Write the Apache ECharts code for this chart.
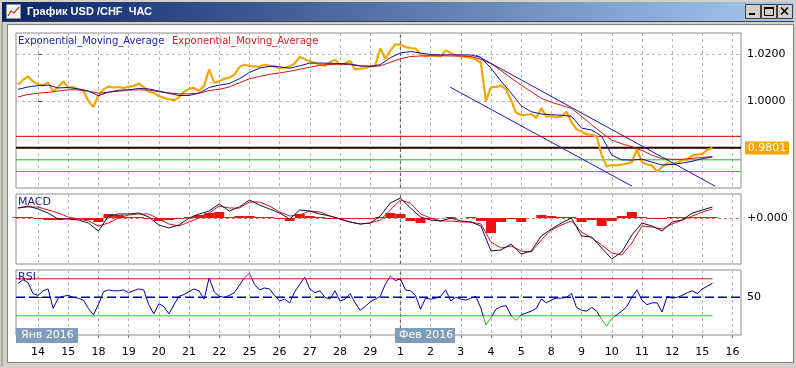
<!DOCTYPE html>
<html><head><meta charset="utf-8">
<script src="https://cdn.jsdelivr.net/npm/echarts@6/dist/echarts.min.js"></script>
<style>html,body{margin:0;padding:0;background:#d4d0c8;}#c{width:796px;height:368px;}</style>
</head><body><div id="c"></div>
<script>
// ---- x axis: trading days counted from 14 Jan 2016 00:00 ----
const dayLabels = ['14','15','18','19','20','21','22','25','26','27','28','29','1','2','3','4','5','8','9','10','11','12','15','16'];
const monthLabels = ['Янв 2016','Фев 2016'];
const monthStartDay = 12; // 1 Feb
const priceStart = -2/3, priceStep = 1/6; // 4-hour samples from 13 Jan 16:00
const emaStart = -2/3, emaStep = 1/3;     // 8-hour samples

// ---- main panel: USD/CHF hourly ----
const price = [
1.0070,1.0090,1.0105,1.0084,1.0072,1.0066,1.0080,1.0040,1.0060,1.0084,
1.0058,1.0060,1.0050,1.0044,1.0000,0.9975,1.0025,1.0050,1.0062,1.0058,
1.0060,1.0055,1.0062,1.0064,1.0075,1.0060,1.0040,1.0034,1.0022,1.0014,
1.0008,1.0004,1.0016,1.0040,1.0052,1.0056,1.0044,1.0065,1.0135,1.0078,
1.0084,1.0095,1.0100,1.0112,1.0145,1.0155,1.0150,1.0148,1.0146,1.0155,
1.0150,1.0148,1.0140,1.0142,1.0148,1.0160,1.0188,1.0178,1.0170,1.0162,
1.0156,1.0150,1.0165,1.0176,1.0156,1.0160,1.0172,1.0135,1.0138,1.0140,
1.0148,1.0150,1.0225,1.0180,1.0215,1.0242,1.0240,1.0230,1.0226,1.0224,
1.0200,1.0190,1.0196,1.0192,1.0190,1.0216,1.0205,1.0195,1.0190,1.0188,
1.0184,1.0178,1.0162,1.0000,1.0060,1.0060,1.0066,1.0050,1.0004,0.9950,
0.9940,0.9942,0.9945,0.9928,0.9970,0.9935,0.9935,0.9932,0.9934,0.9955,
0.9910,0.9880,0.9870,0.9858,0.9856,0.9850,0.9770,0.9722,0.9728,0.9726,
0.9730,0.9734,0.9740,0.9795,0.9740,0.9730,0.9726,0.9700,0.9720,0.9735,
0.9732,0.9738,0.9748,0.9752,0.9768,0.9772,0.9775,0.9792,0.9801];
const emaFast = [
1.0050,1.0060,1.0066,1.0068,1.0056,1.0058,1.0052,1.0043,1.0023,1.0038,
1.0046,1.0048,1.0054,1.0052,1.0043,1.0033,1.0024,1.0024,1.0034,1.0058,
1.0068,1.0075,1.0095,1.0122,1.0140,1.0148,1.0146,1.0140,1.0150,1.0162,
1.0162,1.0161,1.0160,1.0158,1.0150,1.0148,1.0155,1.0185,1.0205,1.0211,
1.0205,1.0198,1.0197,1.0197,1.0197,1.0196,1.0186,1.0140,1.0085,1.0035,
0.9980,0.9955,0.9945,0.9942,0.9940,0.9935,0.9885,0.9877,0.9850,0.9770,
0.9750,0.9749,0.9753,0.9740,0.9728,0.9730,0.9736,0.9744,0.9755,0.9762];
const emaSlow = [
1.0018,1.0028,1.0034,1.0037,1.0043,1.0048,1.0048,1.0042,1.0034,1.0038,
1.0042,1.0047,1.0048,1.0047,1.0040,1.0035,1.0031,1.0031,1.0034,1.0045,
1.0050,1.0060,1.0078,1.0095,1.0105,1.0114,1.0120,1.0127,1.0136,1.0144,
1.0153,1.0156,1.0157,1.0155,1.0150,1.0148,1.0150,1.0165,1.0180,1.0190,
1.0192,1.0193,1.0193,1.0192,1.0192,1.0190,1.0178,1.0160,1.0130,1.0098,
1.0068,1.0040,1.0012,0.9995,0.9982,0.9969,0.9935,0.9900,0.9865,0.9834,
0.9818,0.9806,0.9790,0.9770,0.9755,0.9752,0.9752,0.9756,0.9760,0.9764];
const channelUpper = [[14.50, 1.0196], [22.42, 0.9638]];
const channelLower = [[13.64, 1.0060], [19.67, 0.9638]];
const priceLevels = [0.9850, 0.9801, 0.9750, 0.9700];
const lastPrice = 0.9801;
const priceTicks = [1.0000, 1.0200];

// ---- MACD ----
const macdLine = [
0.0010,0.0012,0.0009,0.0005,-0.0001,-0.0001,-0.0002,-0.0005,-0.0013,0.0002,
0.0004,0.0004,0.0005,0.0001,-0.0007,-0.0010,-0.0007,0.0000,0.0004,0.0007,
0.0014,0.0007,0.0011,0.0018,0.0013,0.0009,0.0005,-0.0001,0.0008,0.0007,
0.0004,0.0002,-0.0001,-0.0004,-0.0006,-0.0005,0.0002,0.0015,0.0020,0.0010,
0.0001,-0.0002,-0.0003,0.0000,-0.0003,-0.0004,-0.0008,-0.0033,-0.0032,-0.0026,
-0.0036,-0.0033,-0.0018,-0.0011,-0.0005,0.0000,-0.0018,-0.0019,-0.0030,-0.0041,
-0.0034,-0.0017,-0.0005,-0.0008,-0.0013,-0.0004,-0.0002,0.0005,0.0008,0.0011];
const macdSignal = [
0.0010,0.0011,0.0011,0.0008,0.0005,0.0001,-0.0001,-0.0003,-0.0008,-0.0005,
0.0000,0.0003,0.0004,0.0004,-0.0001,-0.0006,-0.0008,-0.0004,0.0000,0.0005,
0.0012,0.0010,0.0010,0.0016,0.0016,0.0012,0.0006,0.0002,0.0003,0.0007,
0.0006,0.0002,-0.0001,-0.0004,-0.0006,-0.0005,-0.0002,0.0008,0.0018,0.0015,
0.0004,0.0000,-0.0003,-0.0003,-0.0004,-0.0004,-0.0006,-0.0024,-0.0030,-0.0028,
-0.0033,-0.0034,-0.0022,-0.0012,-0.0007,-0.0003,-0.0014,-0.0020,-0.0027,-0.0035,
-0.0037,-0.0025,-0.0008,-0.0009,-0.0011,-0.0006,-0.0002,0.0002,0.0006,0.0009];
const macdHist = [
0.0001,0.0001,-0.0001,-0.0002,-0.0002,-0.0001,-0.0001,-0.0002,-0.0004,0.0004,
0.0003,0.0001,0.0001,-0.0001,-0.0003,-0.0002,-0.0001,0.0001,0.0003,0.0005,
0.0006,0.0001,0.0002,0.0002,0.0001,0.0001,-0.0001,-0.0003,0.0004,0.0002,
0.0001,-0.0001,-0.0001,-0.0001,-0.0001,-0.0001,0.0001,0.0005,0.0004,-0.0003,
-0.0005,-0.0001,0.0000,0.0001,0.0000,0.0001,-0.0003,-0.0015,-0.0004,-0.0001,
-0.0004,0.0000,0.0003,0.0002,0.0001,0.0001,-0.0004,-0.0002,-0.0008,-0.0003,
0.0002,0.0006,0.0001,-0.0001,-0.0001,0.0001,0.0001,0.0001,0.0001,0.0001];
const macdTicks = [0];

// ---- RSI ----
const rsi = [
65,69,66,54,52,57,59,38,49,51, 52,50,49,47,38,31,42,56,58,57,
57,58,55,57,59,58,42,32,43,40, 32,42,51,53,56,59,57,48,71,56,
51,50,52,55,63,71,76,64,58,60, 59,52,46,48,44,56,64,72,59,55,
57,50,48,57,46,48,54,44,36,40, 45,48,51,64,73,68,70,58,57,52,
37,49,48,49,51,58,46,50,48,47, 49,51,38,20,28,37,40,41,30,25,
31,33,35,38,48,44,47,49,49,50, 54,39,36,35,39,35,26,19,27,31,
35,40,50,58,47,42,44,44,34,51, 49,50,52,55,57,54,59,62,65];
const rsiLevels = [70, 50, 30];
const rsiTicks = [50];

// ---------------- build -----------------
const X_MIN = -0.73, X_MAX = 23.28;
const dayTicks = dayLabels.map((_, k) => k);
const FONT = 'DejaVu Sans';
const priceData = price.map((v, i) => [priceStart + i * priceStep, v]);
const fastData = emaFast.map((v, i) => [emaStart + i * emaStep, v]);
const slowData = emaSlow.map((v, i) => [emaStart + i * emaStep, v]);
const macdData = macdLine.map((v, i) => [emaStart + i * emaStep, v]);
const sigData = macdSignal.map((v, i) => [emaStart + i * emaStep, v]);
const histData = macdHist.map((v, i) => [emaStart + i * emaStep, v]);
const rsiData = rsi.map((v, i) => [priceStart + i * priceStep, v]);
const lastX = priceStart + (price.length - 1) * priceStep;

const Y = [
  {min: 0.963, max: 1.029, ticks: priceTicks, fmt: v => v.toFixed(4), split: {color: '#b8b8b8', type: [3, 3]}},
  {min: -0.0046, max: 0.0024, ticks: macdTicks, fmt: v => (v >= 0 ? '+' : '') + v.toFixed(3), split: {color: '#e07070', type: [3, 3]}},
  {min: 9.2, max: 79.5, ticks: rsiTicks, fmt: v => String(v), split: null}
];
const tops = [33, 194, 270], heights = [155, 70, 65];

const grid = tops.map((t, k) => ({left: 16, right: 55, top: t, height: heights[k], show: true,
  borderColor: '#8c8c8c', borderWidth: 1, backgroundColor: '#ffffff'}));
const xAxis = tops.map((t, k) => ({type: 'value', gridIndex: k, min: X_MIN, max: X_MAX,
  axisLine: {show: false},
  axisTick: {show: k === 2, customValues: dayTicks, length: 3, lineStyle: {color: '#808080'}},
  axisLabel: {show: k === 2, customValues: dayTicks, formatter: v => dayLabels[Math.round(v)] || '',
    margin: 12, color: '#000', fontSize: 11, fontFamily: FONT},
  splitLine: {show: true, lineStyle: {color: '#b8b8b8', type: [3, 3], width: 1}}}));
const yAxis = Y.map((a, k) => ({type: 'value', gridIndex: k, position: 'right', min: a.min, max: a.max,
  axisLine: {show: false},
  axisTick: {show: true, customValues: a.ticks, length: 4, lineStyle: {color: '#555'}},
  axisLabel: {customValues: a.ticks, formatter: a.fmt, margin: 6, color: '#000', fontSize: 11, fontFamily: FONT},
  splitLine: a.split ? {show: true, lineStyle: a.split} : {show: false}}));

const line = (g, data, color, width, extra) => Object.assign({type: 'line', xAxisIndex: g, yAxisIndex: g,
  data, symbol: 'none', silent: true, lineStyle: color ? {color, width} : {width}}, extra || {});

const levelStyle = [['#c80000', 1], ['#2a0000', 2], ['#22b822', 1], ['#22b822', 1]];
const series = [];
priceLevels.forEach((v, k) => series.push(line(0, [[X_MIN, v], [X_MAX, v]], levelStyle[k][0], levelStyle[k][1], {z: 1})));
[[0, 0.963, 1.029], [1, -0.0046, 0.0024], [2, 9.2, 79.5]].forEach(([g, a, b]) =>
  series.push(line(g, [[monthStartDay, a], [monthStartDay, b]], '#555555', 1, {z: 1, lineStyle: {color: '#555', width: 1, type: [3, 3]}})));
series.push(line(0, priceData, '#f5a600', 2.2, {z: 3}));
series.push(line(0, slowData, '#d41414', 1, {z: 4}));
series.push(line(0, fastData, '#14148c', 1, {z: 5}));
series.push(line(0, channelUpper, '#1c1ca0', 1, {z: 5}));
series.push(line(0, channelLower, '#1c1ca0', 1, {z: 5}));
// MACD
series.push({type: 'bar', xAxisIndex: 1, yAxisIndex: 1, data: histData, barWidth: 10, silent: true,
  itemStyle: {color: '#ee1010'}, z: 3});
series.push(line(1, sigData, '#e01010', 1, {z: 4}));
series.push(line(1, macdData, '#101048', 1, {z: 5}));
// RSI
series.push(line(2, [[X_MIN, rsiLevels[0]], [lastX, rsiLevels[0]]], '#d01010', 1, {z: 1}));
series.push(line(2, [[X_MIN, rsiLevels[1]], [X_MAX, rsiLevels[1]]], '#0000a0', 1.5, {z: 1, lineStyle: {color: '#0000a0', width: 1.5, type: [9, 4]}}));
series.push(line(2, [[X_MIN, rsiLevels[2]], [lastX, rsiLevels[2]]], '#22cc22', 1, {z: 1}));
const rsiIndex = series.length;
series.push(line(2, rsiData, null, 1, {z: 4}));

const graphic = [
  {type: 'rect', z: -5, shape: {x: 0, y: 0, width: 796, height: 368}, style: {fill: '#d4d0c8'}},
  {type: 'rect', z: -5, shape: {x: 2, y: 2, width: 792, height: 19},
    style: {fill: {type: 'linear', x: 0, y: 0, x2: 1, y2: 0, colorStops: [{offset: 0, color: '#0a246a'}, {offset: 1, color: '#a6caf0'}]}}},
  {type: 'rect', z: -5, shape: {x: 2, y: 21, width: 792, height: 1}, style: {fill: '#404040'}},
  {type: 'rect', z: -5, shape: {x: 7.5, y: 24.5, width: 786, height: 338}, style: {fill: '#ffffff', stroke: '#808080'}},
  {type: 'rect', z: -5, shape: {x: 1.5, y: 22, width: 1, height: 344}, style: {fill: '#808080'}},
  // icon
  {type: 'rect', z: 10, shape: {x: 6.5, y: 4.5, width: 14, height: 14}, style: {fill: '#f4f4f4', stroke: '#909090'}},
  {type: 'polyline', z: 11, shape: {points: [[8, 16], [11, 11], [14, 13], [19, 7]]}, style: {stroke: '#d03020', lineWidth: 1.2, fill: null}},
  {type: 'text', z: 10, x: 27, y: 12, style: {text: 'График USD /CHF  ЧАС', fill: '#ffffff', font: 'bold 11px "Liberation Sans"', verticalAlign: 'middle'}},
  // window buttons
  ...[745, 761, 777].map(bx => ({type: 'rect', z: 10, shape: {x: bx + 0.5, y: 4.5, width: 15, height: 14}, style: {fill: '#d4d0c8', stroke: '#404040'}})),
  {type: 'rect', z: 11, shape: {x: 749, y: 13, width: 6, height: 2}, style: {fill: '#000'}},
  {type: 'rect', z: 11, shape: {x: 764.5, y: 7.5, width: 9, height: 8}, style: {fill: null, stroke: '#000'}},
  {type: 'rect', z: 11, shape: {x: 764, y: 7, width: 10, height: 2}, style: {fill: '#000'}},
  {type: 'line', z: 11, shape: {x1: 781, y1: 7.5, x2: 788, y2: 14.5}, style: {stroke: '#000', lineWidth: 1.6}},
  {type: 'line', z: 11, shape: {x1: 788, y1: 7.5, x2: 781, y2: 14.5}, style: {stroke: '#000', lineWidth: 1.6}},
  // indicator captions
  {type: 'text', z: 20, x: 18, y: 41, style: {text: 'Exponential_Moving_Average', fill: '#2323b4', font: '10px "DejaVu Sans"', verticalAlign: 'middle'}},
  {type: 'text', z: 20, x: 172, y: 41, style: {text: 'Exponential_Moving_Average', fill: '#d42020', font: '10px "DejaVu Sans"', verticalAlign: 'middle'}},
  {type: 'text', z: 20, x: 18, y: 202, style: {text: 'MACD', fill: '#202080', font: '11px "DejaVu Sans"', verticalAlign: 'middle'}},
  {type: 'text', z: 20, x: 18, y: 277, style: {text: 'RSI', fill: '#202080', font: '11px "DejaVu Sans"', verticalAlign: 'middle'}},
  // last price tag
  {type: 'rect', z: 20, shape: {x: 745, y: 141.5, width: 44, height: 13}, style: {fill: '#f5a600'}},
  {type: 'text', z: 21, x: 767, y: 148.5, style: {text: lastPrice.toFixed(4), fill: '#ffffff', font: '11px "DejaVu Sans"', align: 'center', verticalAlign: 'middle'}},
  // month tags
  {type: 'rect', z: 20, shape: {x: 16, y: 328, width: 62, height: 15}, style: {fill: '#7f9dbb'}},
  {type: 'text', z: 21, x: 21, y: 335.5, style: {text: monthLabels[0], fill: '#ffffff', font: '11px "DejaVu Sans"', verticalAlign: 'middle'}},
  {type: 'rect', z: 20, shape: {x: 395, y: 328, width: 60, height: 15}, style: {fill: '#7f9dbb'}},
  {type: 'text', z: 21, x: 399, y: 335.5, style: {text: monthLabels[1], fill: '#ffffff', font: '11px "DejaVu Sans"', verticalAlign: 'middle'}}
];

const chart = echarts.init(document.getElementById('c'), null, {renderer: 'canvas'});
chart.setOption({
  animation: false,
  backgroundColor: '#d4d0c8',
  grid, xAxis, yAxis, series, graphic,
  visualMap: {show: false, type: 'piecewise', seriesIndex: rsiIndex, dimension: 1,
    pieces: [{lt: 30, color: '#10c010'}, {gte: 30, lte: 70, color: '#0000a0'}, {gt: 70, color: '#c800c8'}]}
});
</script></body></html>
